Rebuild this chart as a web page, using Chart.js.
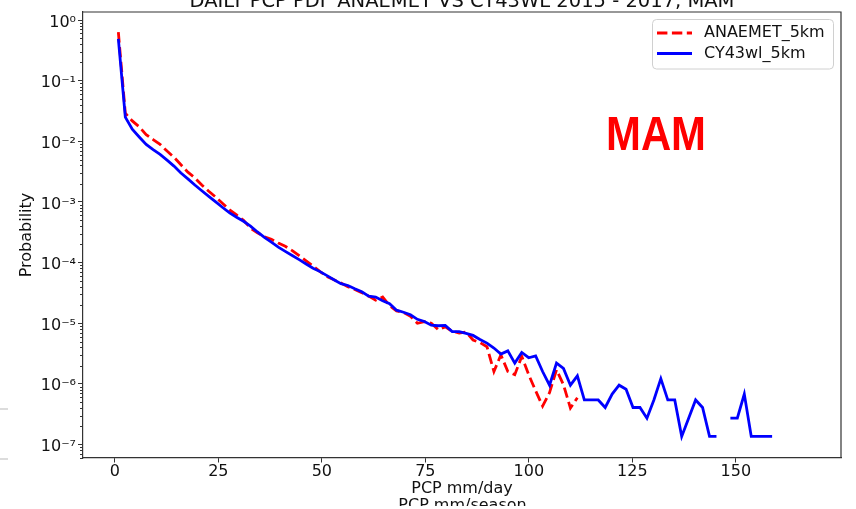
<!DOCTYPE html>
<html>
<head>
<meta charset="utf-8">
<title>Daily PCP PDF ANAEMET vs CY43WL 2015 - 2017, MAM</title>
<script src="https://cdn.jsdelivr.net/npm/chart.js@4.4.1/dist/chart.umd.min.js"></script>
<style>
  html, body { margin: 0; padding: 0; background: #fff; }
  #wrap { position: relative; width: 856px; height: 509px; }
</style>
</head>
<body>
<div id="wrap"><canvas id="pdfChart"></canvas></div>
<script>
// Histogram bin centres (mm/day)
const binCenters = [
  0.84, 2.52, 4.20, 5.88, 7.56, 9.24, 10.92, 12.60, 14.28, 15.96,
  17.64, 19.32, 21.00, 22.68, 24.36, 26.04, 27.72, 29.40, 31.08, 32.76,
  34.44, 36.12, 37.80, 39.48, 41.16, 42.84, 44.52, 46.20, 47.88, 49.56,
  51.24, 52.92, 54.60, 56.28, 57.96, 59.64, 61.32, 63.00, 64.68, 66.36,
  68.04, 69.72, 71.40, 73.08, 74.76, 76.44, 78.12, 79.80, 81.48, 83.16,
  84.84, 86.52, 88.20, 89.88, 91.56, 93.24, 94.92, 96.60, 98.28, 99.96,
  101.64, 103.32, 105.00, 106.68, 108.36, 110.04, 111.72, 113.40, 115.08, 116.76,
  118.44, 120.12, 121.80, 123.48, 125.16, 126.84, 128.52, 130.20, 131.88, 133.56,
  135.24, 136.92, 138.60, 140.28, 141.96, 143.64, 145.32, 147.00, 148.68, 150.36,
  152.04, 153.72, 155.40, 157.08, 158.76
];

// ANAEMET_5km probabilities (observations)
const anaemet5km = [
  0.63, 0.029, 0.0217, 0.0173, 0.0129, 0.0107, 0.0089, 0.0069, 0.00545, 0.0041,
  0.0031, 0.0025, 0.0019, 0.0015, 0.0012, 0.00094, 0.00074, 0.00061, 0.0005, 0.00037,
  0.00031, 0.000266, 0.000243, 0.00021, 0.000186, 0.000158, 0.00013, 0.000107, 8.8e-5, 7.1e-5,
  5.9e-5, 5.2e-5, 4.6e-5, 4.0e-5, 3.6e-5, 3.2e-5, 2.8e-5, 2.4e-5, 2.7e-5, 1.95e-5,
  1.6e-5, 1.5e-5, 1.3e-5, 1.0e-5, 1.06e-5, 1.0e-5, 7.8e-6, 8.7e-6, 7.4e-6, 6.9e-6,
  7.2e-6, 5.3e-6, 4.8e-6, 4.1e-6, 1.6e-6, 3.0e-6, 1.6e-6, 1.42e-6, 2.84e-6, 1.42e-6,
  7.7e-7, 4.3e-7, 7.2e-7, 1.7e-6, 9.7e-7, 4.0e-7, 5.9e-7
];

// CY43wl_5km probabilities (model); null = empty bin
const cy43wl5km = [
  0.49, 0.025, 0.0158, 0.0118, 0.0089, 0.0073, 0.0061, 0.0049, 0.0039, 0.0030,
  0.0024, 0.0019, 0.00153, 0.00124, 0.00100, 0.00081, 0.00066, 0.00056, 0.00048, 0.00040,
  0.00032, 0.00026, 0.000217, 0.000180, 0.000153, 0.000131, 0.000112, 9.5e-5, 8.1e-5, 7.1e-5,
  6.1e-5, 5.2e-5, 4.5e-5, 4.2e-5, 3.7e-5, 3.3e-5, 2.8e-5, 2.7e-5, 2.35e-5, 2.1e-5,
  1.64e-5, 1.52e-5, 1.38e-5, 1.16e-5, 1.07e-5, 9.3e-6, 9.1e-6, 9.2e-6, 7.3e-6, 7.3e-6,
  6.8e-6, 6.3e-6, 5.4e-6, 4.7e-6, 3.9e-6, 3.1e-6, 3.5e-6, 2.2e-6, 3.3e-6, 2.7e-6,
  2.9e-6, 1.6e-6, 9.52e-7, 2.2e-6, 1.8e-6, 9.52e-7, 1.36e-6, 5.44e-7, 5.44e-7, 5.44e-7,
  4.08e-7, 6.8e-7, 9.52e-7, 8.16e-7, 4.08e-7, 4.08e-7, 2.72e-7, 5.44e-7, 1.22e-6, 5.44e-7,
  5.44e-7, 1.36e-7, 2.72e-7, 5.44e-7, 4.08e-7, 1.36e-7, 1.36e-7, null, 2.72e-7, 2.72e-7,
  6.8e-7, 1.36e-7, 1.36e-7, 1.36e-7, 1.36e-7
];

const xTicks = [0, 25, 50, 75, 100, 125, 150];
const yTicks = [1e-7, 1e-6, 1e-5, 1e-4, 1e-3, 1e-2, 1e-1, 1];
const titleText = 'DAILY PCP PDF ANAEMET VS CY43WL 2015 - 2017, MAM';
const seasonText = 'MAM';
const cutLabel = 'PCP mm/season';

const SUP = { '-': '\u207B', '0': '\u2070', '1': '\u00B9', '2': '\u00B2', '3': '\u00B3',
  '4': '\u2074', '5': '\u2075', '6': '\u2076', '7': '\u2077', '8': '\u2078', '9': '\u2079' };

function powerLabel(v) {
  const e = Math.round(Math.log10(v));
  return '10' + String(e).split('').map(c => SUP[c]).join('');
}

function toPoints(values) {
  return values.map((y, i) => ({ x: binCenters[i], y }));
}

const FONT = 'DejaVu Sans';
Chart.defaults.font.family = FONT;
Chart.defaults.font.size = 16;
Chart.defaults.color = '#111';

// Frame, minor log ticks, legend and the extra texts
const decor = {
  id: 'decor',
  afterDraw(chart) {
    const { ctx, chartArea: a, scales: { y } } = chart;
    ctx.save();

    // top and right spines
    ctx.strokeStyle = '#333';
    ctx.lineWidth = 1.2;
    ctx.beginPath();
    ctx.moveTo(a.left, a.top);
    ctx.lineTo(a.right, a.top);
    ctx.lineTo(a.right, a.bottom);
    ctx.stroke();

    // minor ticks of the log axis
    ctx.lineWidth = 1;
    ctx.beginPath();
    for (let e = -8; e <= 0; e++) {
      for (let k = 2; k <= 9; k++) {
        const v = k * Math.pow(10, e);
        if (v < y.min || v > y.max) continue;
        const py = Math.round(y.getPixelForValue(v)) + 0.5;
        ctx.moveTo(a.left - 3, py);
        ctx.lineTo(a.left, py);
      }
    }
    ctx.stroke();

    // big season label
    ctx.fillStyle = '#ff0000';
    ctx.font = 'bold 48px "Liberation Sans"';
    ctx.textAlign = 'left';
    ctx.textBaseline = 'alphabetic';
    ctx.fillText(seasonText, 606, 149.5, 100);

    // legend box
    const lx = 652, ly = 19, lw = 181, lh = 49.5;
    ctx.beginPath();
    ctx.roundRect(lx + 0.5, ly + 0.5, lw, lh, 4);
    ctx.fillStyle = 'rgba(255,255,255,0.8)';
    ctx.fill();
    ctx.strokeStyle = '#d0d0d0';
    ctx.stroke();
    chart.data.datasets.forEach((ds, i) => {
      const ry = 33 + i * 20.5;
      ctx.strokeStyle = ds.borderColor;
      ctx.lineWidth = ds.borderWidth;
      ctx.setLineDash(ds.borderDash || []);
      ctx.beginPath();
      ctx.moveTo(657, ry);
      ctx.lineTo(692, ry);
      ctx.stroke();
      ctx.setLineDash([]);
      ctx.fillStyle = '#111';
      ctx.font = '16px "' + FONT + '"';
      ctx.textBaseline = 'middle';
      ctx.fillText(ds.label, 704, ry);
    });

    // title cut by the top of the image
    ctx.fillStyle = '#111';
    ctx.font = '19.5px "' + FONT + '"';
    ctx.textAlign = 'center';
    ctx.textBaseline = 'alphabetic';
    ctx.fillText(titleText, (a.left + a.right) / 2, 7.3);

    // second x label cut by the bottom of the image
    ctx.save();
    ctx.beginPath();
    ctx.rect(0, 490, chart.width, 16);
    ctx.clip();
    ctx.font = '16px "' + FONT + '"';
    ctx.fillText(cutLabel, 462.5, 509.7);
    ctx.restore();

    // stray grey marks at the left edge
    ctx.strokeStyle = '#dcdcdc';
    ctx.lineWidth = 2;
    ctx.beginPath();
    ctx.moveTo(0, 409); ctx.lineTo(8, 409);
    ctx.moveTo(0, 459); ctx.lineTo(8, 459);
    ctx.stroke();

    ctx.restore();
  }
};

new Chart(document.getElementById('pdfChart'), {
  type: 'line',
  data: {
    datasets: [
      {
        label: 'ANAEMET_5km',
        data: toPoints(anaemet5km),
        borderColor: '#ff0000',
        borderWidth: 2.8,
        borderDash: [10.4, 4.5],
        pointRadius: 0,
        tension: 0,
        order: 2
      },
      {
        label: 'CY43wl_5km',
        data: toPoints(cy43wl5km),
        borderColor: '#0000ff',
        borderWidth: 2.8,
        pointRadius: 0,
        tension: 0,
        order: 1
      }
    ]
  },
  options: {
    responsive: true,
    maintainAspectRatio: false,
    animation: false,
    layout: { padding: { top: 12, right: 15, left: 0, bottom: 0 } },
    scales: {
      x: {
        type: 'linear',
        min: -7.7,
        max: 175.4,
        afterBuildTicks: s => { s.ticks = xTicks.map(v => ({ value: v })); },
        afterFit: s => { s.height = 51; },
        ticks: { autoSkip: false, maxRotation: 0, padding: 0, color: '#111' },
        grid: { drawOnChartArea: false, tickLength: 4.5, tickColor: '#333', tickWidth: 1 },
        border: { display: true, color: '#333', width: 1.2 },
        title: { display: true, text: 'PCP mm/day', color: '#111', padding: { top: 0, bottom: 11 } }
      },
      y: {
        type: 'logarithmic',
        min: 6.1e-8,
        max: 1.355,
        afterBuildTicks: s => { s.ticks = yTicks.map(v => ({ value: v, major: true })); },
        afterFit: s => { s.width = 83; },
        // empty first line nudges the label down like matplotlib's mathtext centring
        ticks: {
          autoSkip: false, padding: 2, color: '#111',
          font: { size: 16, lineHeight: 0.3 },
          callback: v => ['', powerLabel(v)]
        },
        grid: { drawOnChartArea: false, tickLength: 5, tickColor: '#333', tickWidth: 1 },
        border: { display: true, color: '#333', width: 1.2 },
        title: { display: true, text: 'Probability', color: '#111', padding: { top: 17, bottom: 0 } }
      }
    },
    plugins: {
      legend: { display: false },
      tooltip: { enabled: false }
    }
  },
  plugins: [decor]
});
</script>
</body>
</html>
